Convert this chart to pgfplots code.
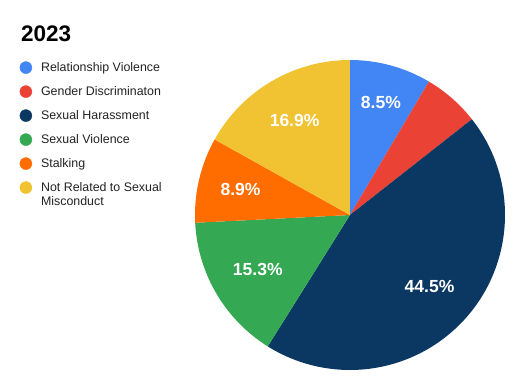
\documentclass[border=0pt]{standalone}
\usepackage{pgfplots}
\pgfplotsset{compat=1.18}
\usepackage{pgfplotstable}
\usepackage{fontspec}
\setmainfont{Liberation Sans}

\definecolor{cRel}{HTML}{4285F4}
\definecolor{cGen}{HTML}{EA4335}
\definecolor{cHar}{HTML}{0B3862}
\definecolor{cVio}{HTML}{34A853}
\definecolor{cSta}{HTML}{FF6D01}
\definecolor{cNot}{HTML}{F1C232}
\definecolor{legtext}{HTML}{222222}

% value = percentage of the pie, lr = label radius (fraction of pie radius)
\pgfplotstableread[col sep=comma]{
value,color,lr,show
8.5,cRel,0.755,1
5.9,cGen,0.70,0
44.5,cHar,0.69,1
15.3,cVio,0.69,1
8.9,cSta,0.725,1
16.9,cNot,0.706,1
}\piedata

\tikzset{pielabel/.style={font=\bfseries\fontsize{17.5bp}{20bp}\selectfont, text=white, inner sep=0pt}}

\begin{document}
\begin{tikzpicture}
\path[use as bounding box] (-350bp,-175bp) rectangle (174bp,215bp);
\begin{axis}[
  at={(0,0)}, anchor=origin,
  x=155bp, y=155bp,
  xmin=-1, xmax=1, ymin=-1, ymax=1,
  hide axis, clip=false,
  legend image code/.code={\fill[#1] (6bp,4.3bp) circle[radius=6bp];},
  legend cell align=left,
  legend style={
    draw=none, fill=none, inner sep=0pt, outer sep=0pt,
    at={(-0.5655,0.9955)}, anchor=north west,
    font=\fontsize{12.4bp}{14bp}\selectfont, text=legtext,
    row sep={24bp,between origins}, column sep=9bp,
    cells={anchor=base west}, nodes={inner sep=0pt},
  },
]
\pgfplotstablegetrowsof{\piedata}
\pgfmathtruncatemacro{\lastrow}{\pgfplotsretval-1}
\gdef\cum{90}
\pgfplotsforeachungrouped \i in {0,...,\lastrow}{%
  \pgfplotstablegetelem{\i}{value}\of{\piedata}\let\val\pgfplotsretval
  \pgfplotstablegetelem{\i}{color}\of{\piedata}\let\col\pgfplotsretval
  \pgfplotstablegetelem{\i}{lr}\of{\piedata}\let\lr\pgfplotsretval
  \pgfplotstablegetelem{\i}{show}\of{\piedata}\let\shw\pgfplotsretval
  \pgfmathsetmacro{\endang}{\cum-3.6*\val}
  \pgfmathsetmacro{\midang}{\cum-1.8*\val}
  \pgfmathsetmacro{\sx}{cos(\cum)}
  \pgfmathsetmacro{\sy}{sin(\cum)}
  \pgfmathsetmacro{\lx}{\lr*cos(\midang)}
  \pgfmathsetmacro{\ly}{\lr*sin(\midang)}
  \edef\temp{\noexpand\fill[\col] (axis cs:0,0) -- (axis cs:\sx,\sy) arc[start angle=\cum, end angle=\endang, radius=155bp] -- cycle;}%
  \temp
  \ifnum\shw=1
    \edef\temp{\noexpand\node[pielabel] at (axis cs:\lx,\ly) {\val\noexpand\%};}%
    \temp
  \fi
  \global\let\cum\endang
}
\addlegendimage{cRel}\addlegendentry{Relationship Violence}
\addlegendimage{cGen}\addlegendentry{Gender Discriminaton}
\addlegendimage{cHar}\addlegendentry{Sexual Harassment}
\addlegendimage{cVio}\addlegendentry{Sexual Violence}
\addlegendimage{cSta}\addlegendentry{Stalking}
\addlegendimage{cNot}\addlegendentry{\begin{tabular}[t]{@{}l@{}}Not Related to Sexual\\Misconduct\end{tabular}}
\end{axis}
\node[anchor=base west, inner sep=0pt, font=\bfseries\fontsize{22.5bp}{27bp}\selectfont] at (-329bp,173.3bp) {2023};
\end{tikzpicture}
\end{document}
